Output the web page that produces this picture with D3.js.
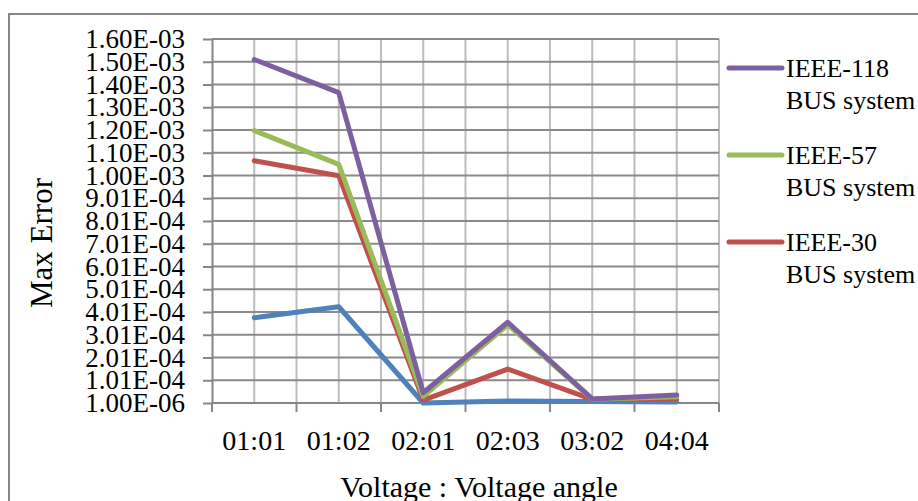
<!DOCTYPE html>
<html>
<head>
<meta charset="utf-8">
<script src="https://cdn.jsdelivr.net/npm/d3@7"></script>
<style>
  html, body { margin: 0; padding: 0; background: #fff; }
  svg { display: block; font-family: "Liberation Serif", "Times New Roman", serif; }
</style>
</head>
<body>
<svg id="chart" width="918" height="501"></svg>
<script>
// Combination ratios on the x axis
const categories = ["01:01", "01:02", "02:01", "02:03", "03:02", "04:04"];

// Maximum error for each test system
const ieee14  = [3.76e-4, 4.24e-4, 1.0e-6, 1.0e-5, 8.0e-6, 5.0e-6];
const ieee30  = [1.066e-3, 1.0e-3, 1.4e-5, 1.5e-4, 1.7e-5, 1.9e-5];
const ieee57  = [1.198e-3, 1.050e-3, 3.0e-5, 3.45e-4, 1.8e-5, 2.8e-5];
const ieee118 = [1.511e-3, 1.365e-3, 4.6e-5, 3.56e-4, 1.9e-5, 3.6e-5];

// Y-axis ticks start at 1.00E-06 and step by 1.00E-04
const yTickValues = [1e-6, 1.01e-4, 2.01e-4, 3.01e-4, 4.01e-4, 5.01e-4, 6.01e-4, 7.01e-4,
  8.01e-4, 9.01e-4, 1.001e-3, 1.101e-3, 1.201e-3, 1.301e-3, 1.401e-3, 1.501e-3, 1.601e-3];
const yTickLabels = ["1.00E-06", "1.01E-04", "2.01E-04", "3.01E-04", "4.01E-04", "5.01E-04",
  "6.01E-04", "7.01E-04", "8.01E-04", "9.01E-04", "1.00E-03", "1.10E-03", "1.20E-03",
  "1.30E-03", "1.40E-03", "1.50E-03", "1.60E-03"];

const seriesNames = ["IEEE-14 BUS system", "IEEE-30 BUS system", "IEEE-57 BUS system", "IEEE-118 BUS system"];
const seriesColors = ["#4f81bd", "#c0504d", "#9bbb59", "#7d60a0"];
const seriesValues = [ieee14, ieee30, ieee57, ieee118];

// Legend lists the larger systems first
const legendOrder = [3, 2, 1];

const svg = d3.select("#chart");
const plot = { left: 212, right: 719, top: 39, bottom: 403 };

const x = d3.scaleBand().domain(categories).range([plot.left, plot.right]).padding(0);
const y = d3.scaleLinear().domain([1e-6, 1.601e-3]).range([plot.bottom, plot.top]);
const bw = x.bandwidth();
const cx = c => x(c) + bw / 2;

// Chart frame
svg.append("path")
  .attr("d", `M9,501 L9,14 L918,14`)
  .attr("fill", "none")
  .attr("stroke", "#868686")
  .attr("stroke-width", 2);

// Vertical gridlines at category edges and centres
const vLines = [];
categories.forEach(c => { vLines.push(x(c)); vLines.push(cx(c)); });
vLines.push(plot.right);
svg.append("g").selectAll("line")
  .data(vLines.slice(1))
  .join("line")
  .attr("x1", d => d).attr("x2", d => d)
  .attr("y1", plot.top).attr("y2", plot.bottom)
  .attr("stroke", "#bdbdbd")
  .attr("stroke-width", 2);

// Horizontal gridlines
svg.append("g").selectAll("line")
  .data(yTickValues.slice(1))
  .join("line")
  .attr("x1", plot.left).attr("x2", plot.right)
  .attr("y1", d => y(d)).attr("y2", d => y(d))
  .attr("stroke", "#8a8a8a")
  .attr("stroke-width", 2);

// Y axis
const yAxis = d3.axisLeft(y)
  .tickValues(yTickValues)
  .tickFormat((d, i) => yTickLabels[i])
  .tickSizeInner(9).tickSizeOuter(0).tickPadding(18);
const yg = svg.append("g").attr("transform", `translate(${plot.left},0)`).call(yAxis);
yg.select(".domain").attr("stroke", "#868686").attr("stroke-width", 2);
yg.selectAll(".tick line").attr("stroke", "#868686").attr("stroke-width", 2);
yg.selectAll(".tick text")
  .attr("font-size", 27)
  .attr("fill", "#000")
  .attr("font-family", "Liberation Serif, Times New Roman, serif");

// X axis: ticks fall on category boundaries
const xAxis = d3.axisBottom(x).tickSize(0).tickPadding(27);
const xg = svg.append("g").attr("transform", `translate(0,${plot.bottom})`).call(xAxis);
xg.select(".domain").attr("stroke", "#868686").attr("stroke-width", 2).attr("d", `M${plot.left},0H${plot.right}`);
xg.selectAll(".tick text")
  .attr("font-size", 28)
  .attr("fill", "#000")
  .attr("font-family", "Liberation Serif, Times New Roman, serif")
  .attr("dy", "0.71em");
xg.append("g").selectAll("line")
  .data(categories.map(c => x(c)).concat([plot.right]))
  .join("line")
  .attr("x1", d => d).attr("x2", d => d)
  .attr("y1", 0).attr("y2", 9)
  .attr("stroke", "#868686")
  .attr("stroke-width", 2);

// Series lines
const line = d3.line().x((d, i) => cx(categories[i])).y(d => y(d));
svg.append("g").selectAll("path")
  .data(seriesValues)
  .join("path")
  .attr("d", d => line(d))
  .attr("fill", "none")
  .attr("stroke", (d, i) => seriesColors[i])
  .attr("stroke-width", 5)
  .attr("stroke-linejoin", "round")
  .attr("stroke-linecap", "round");

// Axis titles
svg.append("text")
  .attr("x", 479).attr("y", 497)
  .attr("text-anchor", "middle")
  .attr("font-size", 30)
  .text("Voltage : Voltage angle");

svg.append("text")
  .attr("transform", "translate(52,243) rotate(-90)")
  .attr("text-anchor", "middle")
  .attr("font-size", 31)
  .text("Max Error");

// Legend
const lg = svg.append("g");
legendOrder.forEach((si, k) => {
  const ly = 68 + k * 87;
  lg.append("line")
    .attr("x1", 729).attr("x2", 782)
    .attr("y1", ly).attr("y2", ly)
    .attr("stroke", seriesColors[si])
    .attr("stroke-width", 5)
    .attr("stroke-linecap", "round");
  const parts = seriesNames[si].split(" ");
  const t = lg.append("text").attr("font-size", 26).attr("fill", "#000");
  t.append("tspan").attr("x", 786).attr("y", ly + 9).text(parts[0]);
  t.append("tspan").attr("x", 786).attr("y", ly + 41).text(parts.slice(1).join(" "));
});
</script>
</body>
</html>
